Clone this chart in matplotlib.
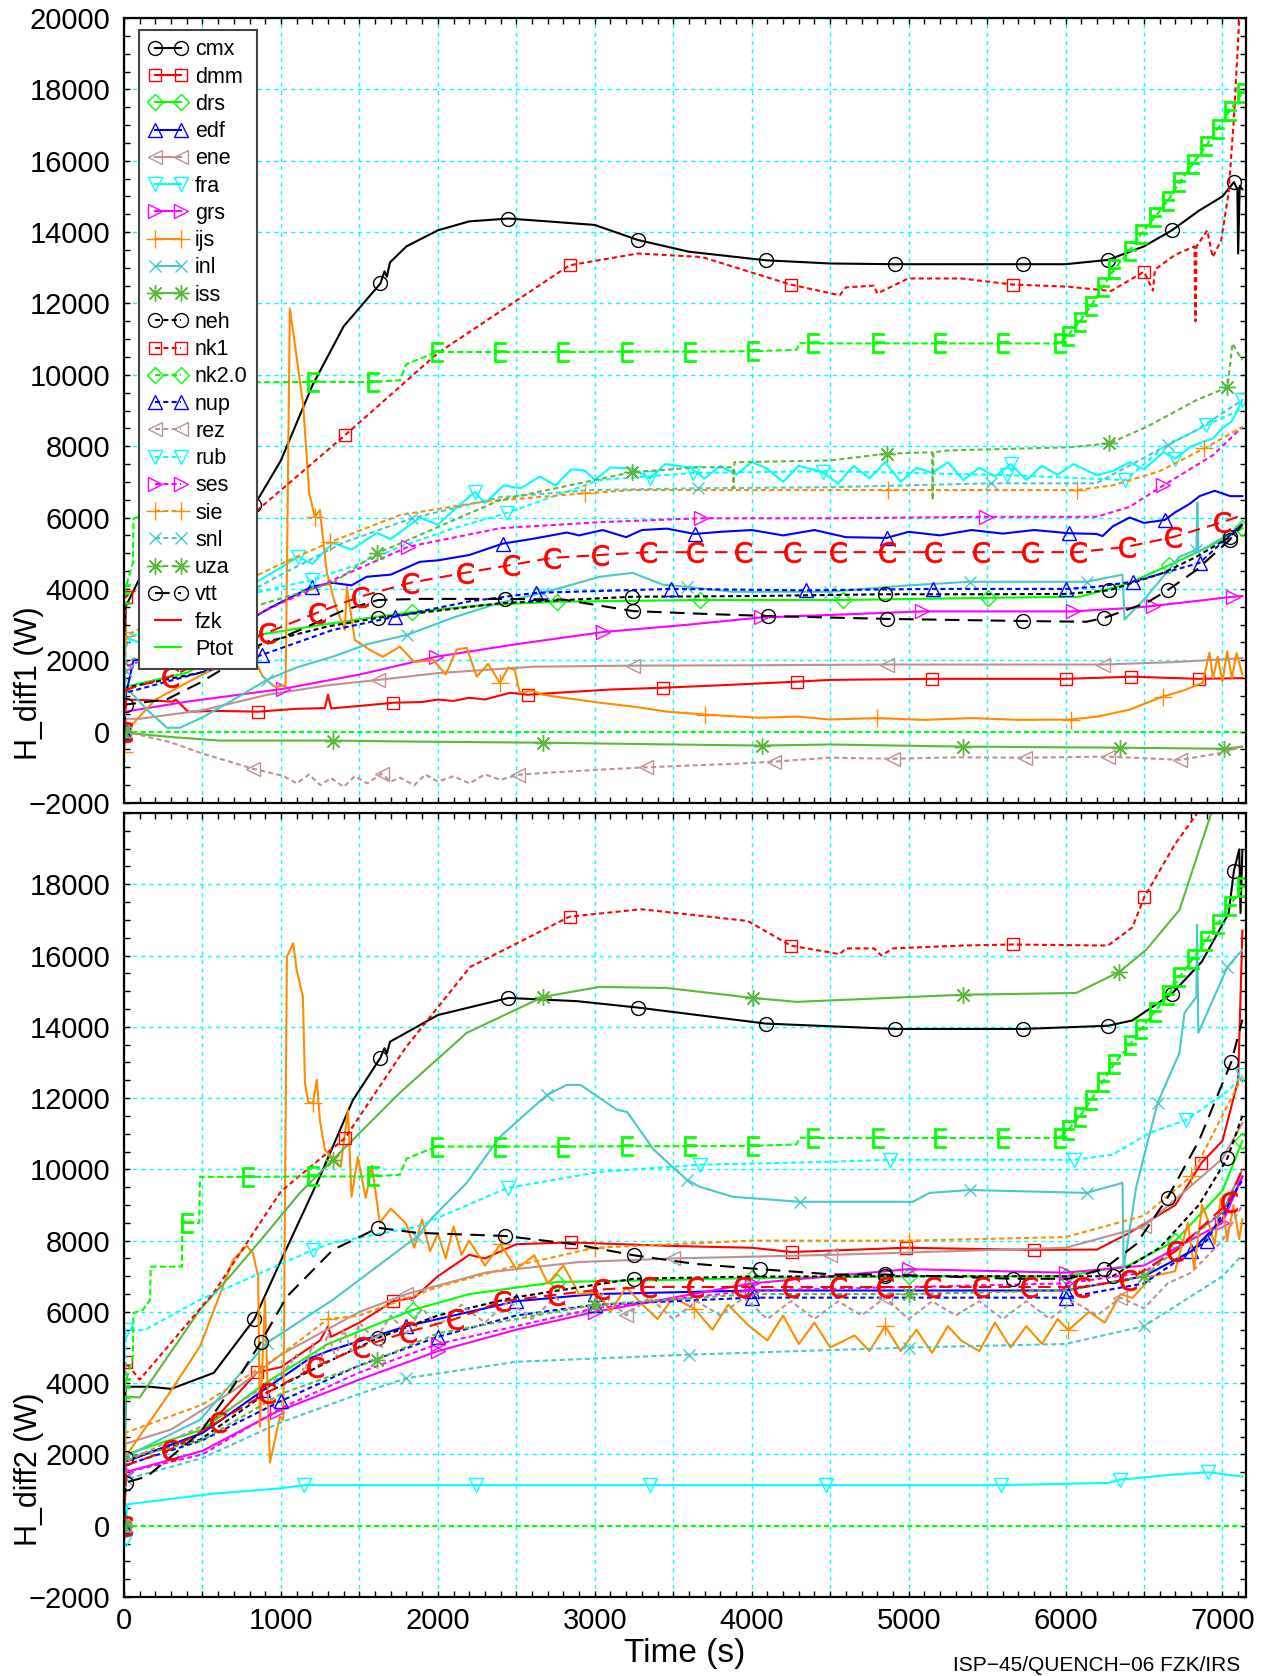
import numpy as np
import matplotlib
matplotlib.use("Agg")
import matplotlib.pyplot as plt
from matplotlib.lines import Line2D
from matplotlib.ticker import MultipleLocator, FuncFormatter

plt.rcParams['font.family'] = ['Liberation Sans', 'DejaVu Sans']

# ===================== data: (time s, power W) =====================
# ---- H_diff1 (top panel)
cmx_top = [(0, 0), (10, 3500), (100, 4300), (300, 5000), (600, 5800), (830, 6340), (1000, 7600), (1200, 9700),
           (1400, 11360), (1634, 12560), (1660, 12900), (1675, 12750), (1695, 13150), (1800, 13600), (2000, 14050),
           (2200, 14300), (2450, 14380), (2700, 14300), (3000, 14200), (3274, 13780), (3600, 13450), (4091, 13210),
           (4500, 13120), (4915, 13100), (5300, 13100), (5732, 13100), (6000, 13100), (6270, 13220), (6500, 13600),
           (6678, 14050), (6850, 14600), (7000, 15000), (7073, 15400), (7095, 15200), (7100, 13400), (7110, 15300),
           (7127, 15200)]
cmx_top_mk = [0, 830, 1634, 2450, 3274, 4091, 4915, 5732, 6270, 6678, 7073]

dmm_top = [(0, 0), (10, 900), (150, 880), (312, 840), (330, 900), (408, 560), (600, 580), (855, 560), (1100, 640),
           (1280, 660), (1300, 1035), (1320, 650), (1500, 720), (1715, 810), (1900, 830), (2000, 900), (2100, 860),
           (2200, 950), (2300, 900), (2460, 1090), (2575, 1035), (2800, 1100), (3100, 1180), (3433, 1230),
           (3800, 1300), (4286, 1400), (4500, 1450), (5150, 1480), (5600, 1480), (6000, 1480), (6420, 1540),
           (6850, 1480), (7127, 1500)]
dmm_top_mk = [0, 855, 1715, 2575, 3433, 4286, 5150, 6000, 6420, 6850]

drs_top = [(0, 0), (10, 1260), (400, 1650), (855, 2710), (1180, 2940), (1500, 3150), (1834, 3350), (2300, 3550),
           (2758, 3640), (3670, 3690), (4580, 3690), (5503, 3750), (6090, 3780), (6400, 4150), (6662, 4670),
           (6900, 5150), (7127, 5700)]
drs_top_mk = [0, 1834, 2758, 3670, 4580, 5503, 6662, 7127]

edf_top = [(0, 0), (10, 1000), (60, 2000), (300, 2150), (600, 2600), (930, 3470), (1197, 4060), (1330, 4170),
           (1450, 4100), (1546, 4340), (1700, 4400), (1885, 4760), (2000, 4800), (2200, 4950), (2414, 5270),
           (2600, 5400), (2822, 5580), (2900, 5500), (3050, 5650), (3200, 5450), (3300, 5650), (3459, 5690),
           (3637, 5540), (3800, 5600), (4000, 5650), (4200, 5500), (4400, 5650), (4600, 5450), (4860, 5430),
           (5000, 5600), (5200, 5500), (5400, 5650), (5600, 5550), (5800, 5650), (6023, 5560), (6197, 5540),
           (6236, 5480), (6300, 5750), (6408, 6000), (6500, 5850), (6631, 5930), (6700, 6150), (6790, 6380),
           (6854, 6600), (6950, 6750), (7050, 6600), (7127, 6600)]
edf_top_mk = [0, 1197, 2414, 3637, 4860, 6023, 6631]

ene_top = [(0, 0), (10, 360), (100, 360), (500, 600), (910, 1030), (1300, 1300), (1620, 1450), (2000, 1640),
           (2605, 1820), (3242, 1850), (4000, 1860), (4860, 1880), (5600, 1880), (6236, 1880), (6700, 1950),
           (7127, 2060)]
ene_top_mk = [0, 1620, 3242, 4860, 6236]

fra_top = [(0, 0), (10, 2630), (100, 2500), (300, 3000), (600, 3700), (866, 4250), (1000, 4600), (1110, 4900),
           (1200, 4700), (1330, 5290), (1450, 5100), (1610, 5570), (1700, 5400), (1885, 6000), (2000, 5800),
           (2100, 6200), (2236, 6720), (2300, 6400), (2420, 6900), (2530, 6820), (2650, 7150), (2750, 6900),
           (2850, 7350), (2936, 7320), (3000, 7050), (3100, 7400), (3242, 7380), (3350, 7100), (3450, 7500),
           (3605, 7400), (3700, 7100), (3800, 7450), (3900, 7200), (4000, 7550), (4096, 7380), (4200, 7000),
           (4300, 7450), (4453, 7270), (4550, 6950), (4650, 7450), (4750, 7100), (4850, 7550), (4950, 7000),
           (5050, 7400), (5150, 7250), (5250, 7550), (5350, 7050), (5450, 7400), (5550, 7150), (5650, 7500),
           (5750, 7050), (5850, 7450), (5950, 7200), (6050, 7500), (6197, 7190), (6300, 7300), (6408, 7550),
           (6500, 7350), (6624, 7830), (6700, 7650), (6800, 8000), (6940, 8220), (7000, 8500), (7060, 8700),
           (7127, 9300)]
fra_top_mk = [0, 1110, 2236, 3350, 4453, 5650, 6700, 7127]

grs_top = [(0, 0), (10, 560), (400, 840), (1015, 1200), (1500, 1600), (1990, 2100), (2500, 2450), (3051, 2790),
           (3600, 3000), (4058, 3200), (4500, 3270), (5086, 3370), (6045, 3370), (6427, 3470), (6555, 3520),
           (7064, 3780), (7127, 3800)]
grs_top_mk = [0, 1015, 1990, 3051, 4058, 5086, 6045, 6555, 7064]

ijs_top = [(0, -560), (10, 0), (200, 900), (500, 1600), (695, 2010), (800, 2300), (885, 1540), (960, 1260),
           (1030, 1300), (1057, 11860), (1100, 10500), (1142, 9150), (1180, 6690), (1216, 6020), (1248, 6210),
           (1293, 4450), (1350, 3500), (1408, 2850), (1420, 4060), (1471, 2570), (1567, 2290), (1650, 2100),
           (1758, 2380), (1850, 1950), (1971, 2010), (2050, 1600), (2120, 2300), (2184, 2350), (2248, 1540),
           (2320, 1900), (2395, 1370), (2450, 1800), (2490, 1730), (2522, 1090), (2600, 1150), (2668, 1035),
           (2800, 950), (3032, 810), (3250, 700), (3459, 560), (3700, 480), (4038, 390), (4300, 420), (4497, 340),
           (4800, 380), (5100, 330), (5400, 380), (5700, 330), (6032, 340), (6200, 420), (6408, 615), (6618, 980),
           (6750, 1150), (6873, 1370), (6917, 2210), (6940, 1500), (6970, 2100), (7000, 1400), (7030, 2250),
           (7060, 1500), (7090, 2200), (7127, 1600)]
ijs_top_mk = [0, 1216, 2395, 3700, 4800, 6032, 6618]

inl_top = [(0, 0), (10, 1260), (150, 600), (274, 110), (357, 110), (500, 400), (700, 900), (910, 1450),
           (1100, 1800), (1330, 2100), (1550, 2450), (1802, 2710), (2100, 3200), (2395, 3610), (2668, 3890),
           (3032, 4340), (3242, 4450), (3433, 4120), (3586, 4060), (3879, 3920), (4497, 3920), (5000, 4100),
           (5389, 4200), (6134, 4200), (6363, 4400), (6376, 3140), (6516, 3780), (6726, 4900), (6834, 5100),
           (6840, 6420), (6846, 5040), (7045, 5540), (7127, 5820)]
inl_top_mk = [0, 910, 1802, 2668, 3586, 4497, 5389, 6134, 6834]

iss_top = [(0, 0), (10, -30), (300, -150), (611, -250), (1000, -250), (1330, -250), (1885, -280), (2668, -310),
           (3500, -360), (4064, -390), (4497, -360), (5345, -420), (6345, -450), (7013, -480), (7127, -420)]
iss_top_mk = [0, 1330, 2668, 4064, 5345, 6345, 7013]

neh_top = [(0, 0), (10, 1230), (484, 1650), (910, 2520), (1300, 2950), (1620, 3190), (1885, 3330), (2400, 3600),
           (3236, 3780), (4000, 3800), (4847, 3850), (5500, 3850), (6000, 3860), (6280, 3960), (6624, 4450),
           (6834, 4900), (7045, 5450), (7127, 5820)]
neh_top_mk = [0, 1620, 3236, 4847, 6280, 7045]

nk1_top = [(0, 0), (10, 3780), (300, 4600), (830, 6130), (1409, 8310), (2000, 10610), (2839, 13070), (3274, 13400),
           (3683, 13300), (4248, 12530), (4561, 12230), (4600, 12450), (4779, 12500), (4800, 12280), (4997, 12700),
           (5337, 12700), (5664, 12530), (6018, 12470), (6290, 12350), (6501, 12890), (6557, 12360), (6570, 12950),
           (6698, 13360), (6821, 13600), (6828, 11500), (6835, 13600), (6903, 14050), (6937, 13300), (6991, 13750),
           (7039, 15100), (7073, 17190), (7107, 19970), (7127, 21000)]
nk1_top_mk = [10, 1409, 2839, 4248, 5664, 6501]

nk20_top = [(0, 0), (7127, 0)]
nk20_top_mk = [0]

nup_top = [(0, 0), (10, 1090), (484, 1650), (878, 2150), (1331, 2850), (1726, 3220), (2200, 3650), (2624, 3890),
           (3484, 4000), (4343, 3960), (5153, 4000), (6000, 4000), (6197, 4060), (6427, 4200), (6854, 4730),
           (7127, 5820)]
nup_top_mk = [0, 878, 1726, 2624, 3484, 4343, 5153, 6000, 6427, 6854]

rez_top = [(0, 0), (10, 0), (300, -300), (484, -590), (822, -1040), (1015, -1240), (1100, -1450), (1180, -1200),
           (1250, -1500), (1320, -1300), (1400, -1550), (1470, -1250), (1550, -1450), (1641, -1180), (1700, -1400),
           (1758, -1290), (1850, -1500), (1920, -1200), (2000, -1400), (2100, -1250), (2200, -1450), (2300, -1200),
           (2400, -1350), (2510, -1210), (2700, -1150), (2900, -1100), (3100, -1050), (3327, -1000), (3600, -950),
           (3900, -900), (4143, -840), (4497, -730), (4898, -760), (5300, -720), (5739, -730), (6268, -700),
           (6732, -790), (7000, -590), (7127, -420)]
rez_top_mk = [0, 822, 1641, 2510, 3327, 4143, 4898, 5739, 6268, 6732]

rub_top = [(0, 0), (10, 2600), (400, 3300), (847, 3900), (1197, 4250), (1500, 4700), (1758, 5180), (2100, 5700),
           (2440, 6130), (3032, 7050), (3624, 7250), (4500, 7300), (5630, 7190), (6382, 7050), (6624, 7970),
           (6898, 8590), (7127, 9040)]
rub_top_mk = [10, 1197, 2440, 3624, 5630, 6382, 6898]

ses_top = [(0, 0), (10, 1820), (300, 2300), (695, 2940), (1000, 3600), (1331, 4250), (1810, 5180), (2395, 5700),
           (3032, 5870), (3675, 5980), (4497, 5980), (5490, 6020), (6197, 6020), (6408, 6300), (6624, 6900),
           (6940, 7750), (7127, 8540)]
ses_top_mk = [10, 1810, 3675, 5490, 6624]

sie_top = [(0, 0), (10, 2690), (300, 3300), (695, 4060), (1000, 4700), (1312, 5310), (1758, 6070), (2300, 6450),
           (2936, 6680), (3242, 6770), (4497, 6770), (4867, 6770), (6070, 6770), (6299, 6900), (6600, 7300),
           (6885, 7940), (7127, 8540)]
sie_top_mk = [10, 1312, 2936, 4867, 6070, 6885]

snl_top = [(0, 0), (10, 1700), (500, 3200), (1000, 4400), (1400, 5300), (1834, 5980), (2395, 6570), (2975, 6770),
           (3656, 6820), (4497, 6850), (5522, 6960), (6197, 6960), (6650, 8030), (6834, 8450), (7127, 9290)]
snl_top_mk = [10, 1834, 3656, 5522, 6650]

uza_top = [(0, 0), (10, 1930), (695, 3330), (1331, 4170), (1610, 5000), (1758, 5270), (2395, 6490), (3236, 7270),
           (3670, 7410), (3879, 7410), (3885, 6820), (3890, 7550), (4497, 7600), (4860, 7790), (5150, 7830),
           (5153, 6490), (5158, 7830), (5248, 7880), (6032, 7970), (6280, 8080), (6516, 8540), (6834, 9290),
           (7032, 9650), (7064, 10880), (7100, 10600), (7127, 10410)]
uza_top_mk = [0, 1610, 3236, 4860, 6280, 7032]

vtt_top = [(0, 0), (10, 760), (270, 900), (484, 1370), (695, 1930), (866, 2380), (1121, 2850), (1400, 3400),
           (1620, 3690), (1885, 3720), (2427, 3720), (2800, 3700), (3242, 3380), (3700, 3300), (4102, 3240),
           (4860, 3160), (5726, 3100), (6134, 3080), (6248, 3190), (6516, 3610), (6650, 3960), (6834, 4530),
           (7045, 5370), (7127, 5800)]
vtt_top_mk = [10, 1620, 2427, 3242, 4102, 4860, 5726, 6248, 6650, 7045]

fzk_top = [(0, 0), (15, 1180), (293, 1540), (600, 2150), (910, 2770), (1229, 3330), (1503, 3780), (1822, 4170),
           (2172, 4450), (2465, 4670), (2726, 4870), (3032, 4950), (3338, 5030), (3637, 5030), (3943, 5030),
           (4255, 5030), (4548, 5030), (4860, 5030), (5153, 5030), (5460, 5030), (5771, 5030), (6077, 5030),
           (6389, 5180), (6682, 5450), (7000, 5870), (7127, 6070)]
fzk_top_mk = [0, 293, 600, 910, 1229, 1503, 1822, 2172, 2465, 2726, 3032, 3338, 3637, 3943, 4255, 4548, 4860,
              5153, 5460, 5771, 6077, 6389, 6682, 7000]

# ---- H_diff2 (bottom panel)
cmx_bot = [(0, 0), (10, 3900), (163, 3900), (300, 3840), (572, 4290), (830, 5790), (1000, 7440), (1252, 9830),
           (1457, 11930), (1634, 13130), (1660, 13400), (1675, 13250), (1695, 13580), (2000, 14330), (2450, 14810),
           (2886, 14720), (3274, 14540), (4091, 14090), (4915, 13940), (5732, 13940), (6270, 14030), (6426, 14180),
           (6678, 14930), (6869, 15830), (7039, 17180), (7073, 18380), (7107, 18980), (7115, 17190), (7127, 18960)]
cmx_bot_mk = [0, 830, 1634, 2450, 3274, 4091, 4915, 5732, 6270, 6678, 7073]

dmm_bot = [(0, 0), (10, 1800), (500, 2600), (847, 4300), (1000, 4450), (1150, 4900), (1250, 5200), (1300, 5600),
           (1320, 5300), (1500, 5700), (1716, 6300), (1850, 6400), (2000, 7000), (2200, 7600), (2300, 7500),
           (2500, 7900), (2846, 7950), (3500, 7850), (4000, 7800), (4255, 7680), (4983, 7800), (5800, 7740),
           (6200, 7750), (6400, 8200), (6700, 9000), (6866, 10180), (7000, 10800), (7100, 12500), (7127, 16700)]
dmm_bot_mk = [0, 847, 1716, 2846, 4255, 4983, 5800, 6866]

drs_bot = [(0, 0), (10, 2000), (500, 2700), (900, 4000), (1300, 5100), (1843, 6060), (2200, 6500), (2757, 6840),
           (3500, 6900), (4000, 6950), (5000, 7000), (6000, 7000), (6400, 7300), (6700, 8000), (7000, 9400),
           (7127, 10800)]
drs_bot_mk = [0, 1843, 2757, 4000, 5000, 6000, 6700, 7127]

edf_bot = [(0, 0), (10, 1800), (500, 2600), (887, 3800), (1185, 4700), (1300, 4900), (1800, 5600), (2500, 6300),
           (3000, 6500), (4000, 6600), (6000, 6600), (6500, 7000), (6800, 7700), (7000, 8600), (7127, 9800)]
edf_bot_mk = [0, 887, 1800, 2500, 3450, 4300, 5200, 6000, 6800]

ene_bot = [(0, 0), (10, 2300), (300, 2700), (700, 3800), (1000, 4800), (1500, 6000), (1800, 6500), (2300, 7100),
           (2900, 7400), (3500, 7500), (4500, 7600), (6000, 7800), (6500, 8400), (7000, 10300), (7127, 11300)]
ene_bot_mk = [0, 1800, 3500, 4847, 6500]

fra_bot = [(0, 0), (10, -360), (20, 600), (572, 900), (1000, 1050), (1150, 1140), (2240, 1140), (3350, 1140),
           (4472, 1140), (5589, 1140), (6270, 1200), (6345, 1290), (6698, 1440), (6910, 1500), (7127, 1380)]
fra_bot_mk = [10, 1150, 2240, 3350, 4472, 5589, 6345, 6910]

grs_bot = [(0, 0), (10, 1500), (500, 2100), (975, 3200), (1500, 4100), (2000, 4900), (2500, 5500), (3000, 6000),
           (4000, 6800), (5000, 7200), (6000, 7100), (6500, 7300), (7000, 8500), (7127, 9800)]
grs_bot_mk = [0, 975, 2000, 3000, 4000, 5000, 6000, 7000]

ijs_bot = [(0, 0), (10, 1940), (274, 3620), (484, 5030), (695, 7460), (783, 7850), (822, 7650), (855, 6990),
           (866, 2780), (898, 6340), (930, 1770), (994, 3060), (1015, 2970), (1038, 15960), (1078, 16350),
           (1100, 15600), (1140, 14840), (1153, 12430), (1174, 11890), (1204, 11860), (1229, 12510), (1248, 11390),
           (1280, 10550), (1331, 10320), (1380, 10070), (1427, 11670), (1450, 9230), (1490, 10350), (1540, 9200),
           (1580, 10100), (1630, 8500), (1700, 8900), (1797, 8480), (1850, 7800), (1900, 8600), (1950, 7700),
           (2000, 8200), (2050, 7500), (2100, 8400), (2150, 7600), (2200, 8000), (2300, 7300), (2400, 7900),
           (2500, 7200), (2614, 7590), (2700, 6800), (2800, 7300), (2900, 6500), (3022, 6540), (3100, 6000),
           (3200, 6700), (3295, 6240), (3400, 5800), (3500, 6400), (3635, 6090), (3750, 5500), (3850, 6200),
           (3975, 5640), (4100, 5200), (4200, 5900), (4300, 5100), (4400, 5700), (4500, 5000), (4656, 5340),
           (4750, 4900), (4850, 5600), (4950, 4900), (5050, 5500), (5150, 4850), (5250, 5600), (5337, 5190),
           (5450, 4900), (5550, 5700), (5650, 5000), (5750, 5600), (5850, 5100), (5950, 5800), (6018, 5490),
           (6150, 6000), (6250, 5700), (6350, 6500), (6426, 6390), (6550, 7000), (6698, 7140), (6780, 8500),
           (6820, 7200), (6870, 9000), (6903, 8630), (6950, 7900), (6990, 9200), (7030, 8000), (7070, 9000),
           (7107, 8040), (7127, 8600)]
ijs_bot_mk = [0, 1204, 2400, 3635, 4850, 6018]

inl_bot = [(0, 0), (10, 1940), (484, 2970), (910, 5130), (1331, 6340), (1866, 8110), (1970, 8670), (2184, 9620),
           (2395, 10910), (2696, 12090), (2822, 12370), (2909, 12370), (3142, 11670), (3206, 11610), (3376, 10550),
           (3586, 9710), (3670, 9510), (3879, 9230), (4306, 9090), (5026, 9090), (5134, 9340), (5389, 9420),
           (6134, 9340), (6363, 9620), (6370, 7200), (6450, 9500), (6587, 11870), (6726, 13270), (6758, 14390),
           (6834, 14840), (6838, 16860), (6846, 13830), (7032, 15680), (7127, 16160)]
inl_bot_mk = [0, 910, 1866, 2696, 3586, 4306, 5389, 6134, 6587, 7032]

iss_bot = [(0, 0), (10, 3620), (100, 3600), (484, 6060), (695, 7100), (910, 8220), (1121, 9340), (1331, 10270),
           (1758, 12150), (2184, 13830), (2670, 14840), (3032, 15120), (3459, 15090), (4008, 14810), (4286, 14700),
           (5345, 14900), (6068, 14950), (6342, 15540), (6514, 16160), (6726, 17280), (6929, 20000), (7050, 21500)]
iss_bot_mk = [0, 1331, 2670, 4008, 5345, 6342]

neh_bot = [(0, 0), (10, 1900), (484, 2410), (910, 3730), (1300, 4600), (1620, 5270), (2000, 5900), (2480, 6400),
           (3247, 6930), (3975, 6990), (4847, 7000), (5664, 7000), (6300, 7000), (6600, 7800), (6850, 9000),
           (7032, 10320), (7127, 11500)]
neh_bot_mk = [10, 1620, 3247, 4847, 6300, 7032]

nk1_bot = [(0, 0), (10, 4590), (100, 4100), (572, 6540), (1000, 9380), (1409, 10880), (1797, 13430), (2206, 15680),
           (2839, 17090), (3295, 17300), (3975, 16970), (4248, 16280), (4561, 16040), (4600, 16200), (4779, 16200),
           (4826, 16000), (4900, 16200), (5337, 16280), (5664, 16310), (6270, 16280), (6426, 16790), (6501, 17630),
           (6698, 19130), (6835, 19970), (6900, 21000)]
nk1_bot_mk = [10, 1409, 2839, 4248, 5664, 6501]

nk20_bot = [(0, 0), (7127, 0)]
nk20_bot_mk = [0]

nup_bot = [(0, 0), (10, 1700), (500, 2400), (1000, 3500), (1500, 4500), (2000, 5300), (2500, 5900), (3000, 6200),
           (4000, 6400), (6000, 6400), (6500, 6800), (6900, 8000), (7127, 9700)]
nup_bot_mk = [0, 1000, 2000, 3000, 4000, 6000, 6900]

rez_bot = [(0, 0), (10, 1800), (500, 2800), (1000, 4200), (1100, 4800), (1150, 4300), (1200, 5100), (1250, 4600),
           (1300, 5400), (1350, 4700), (1400, 5500), (1450, 4900), (1500, 5700), (1600, 5200), (1700, 5900),
           (1800, 5400), (1900, 6100), (2000, 5600), (2150, 6200), (2300, 5700), (2450, 6300), (2600, 5800),
           (2750, 6400), (2900, 5900), (3050, 6500), (3200, 5900), (3350, 6400), (3500, 5800), (3650, 6300),
           (3800, 5900), (3950, 6400), (4100, 5800), (4250, 6300), (4400, 5800), (4550, 6300), (4700, 5900),
           (4850, 6400), (5000, 5800), (5150, 6300), (5300, 5900), (5450, 6300), (5600, 5800), (5750, 6300),
           (5900, 5800), (6050, 6300), (6200, 5900), (6350, 6400), (6500, 6100), (6650, 6800), (6800, 7100),
           (7000, 8000), (7127, 9000)]
rez_bot_mk = [0, 1600, 3200, 4850, 6350]

rub_bot = [(0, 0), (10, 5490), (130, 5490), (484, 6340), (1204, 7740), (1331, 7940), (1866, 8390), (2445, 9480),
           (3032, 9930), (3670, 10130), (4497, 10210), (4879, 10270), (6057, 10270), (6299, 10410), (6535, 11020),
           (6770, 11390), (7045, 12230), (7127, 12650)]
rub_bot_mk = [10, 1204, 2445, 3670, 4879, 6057, 6770, 7127]

ses_bot = [(0, 0), (10, 1500), (500, 2000), (1000, 3300), (1500, 4300), (2000, 5100), (3000, 6100), (4000, 6600),
           (6000, 6800), (6500, 7100), (7000, 8800), (7127, 10000)]
ses_bot_mk = [10, 2000, 4000, 6000]

sie_bot = [(0, 0), (10, 2610), (500, 3400), (1000, 4800), (1300, 5800), (1500, 5900), (2000, 6700), (2500, 7300),
           (3000, 7800), (4000, 8000), (5000, 8000), (6000, 8100), (6500, 8700), (6800, 9800), (7127, 12600)]
sie_bot_mk = [0, 1300, 3000, 5000, 6800]

snl_bot = [(0, 0), (10, 1300), (500, 1900), (1000, 2900), (1500, 3700), (1800, 4140), (2500, 4600), (3600, 4800),
           (5000, 5000), (6000, 5100), (6500, 5600), (7000, 7000), (7127, 7600)]
snl_bot_mk = [10, 1800, 3600, 5000, 6500]

uza_bot = [(0, 0), (10, 1900), (500, 2400), (1000, 3700), (1610, 4660), (2000, 5400), (3000, 6200), (4000, 6500),
           (5000, 6500), (6000, 6600), (6500, 7000), (7000, 8800), (7127, 10000)]
uza_bot_mk = [0, 1610, 3000, 5000, 6500]

vtt_bot = [(0, 0), (10, 1210), (146, 1380), (484, 2610), (695, 3900), (873, 5160), (1038, 6430), (1331, 7740),
           (1620, 8360), (1866, 8220), (2430, 8130), (2886, 7890), (3247, 7590), (3635, 7350), (4050, 7200),
           (4520, 7050), (4847, 7050), (5664, 6930), (6018, 6930), (6242, 7200), (6450, 7900), (6650, 9200),
           (6850, 10800), (6980, 12200), (7057, 13020), (7127, 14200)]
vtt_bot_mk = [10, 873, 1620, 2430, 3247, 4050, 4847, 5664, 6242, 6650, 7057]

fzk_bot = [(0, 0), (15, 1700), (293, 2130), (599, 2920), (910, 3730), (1217, 4460), (1510, 5020), (1810, 5440),
           (2110, 5800), (2410, 6300), (2750, 6480), (3040, 6630), (3340, 6700), (3640, 6700), (3940, 6700),
           (4250, 6700), (4550, 6700), (4850, 6700), (5150, 6700), (5460, 6700), (5770, 6700), (6100, 6700),
           (6400, 6900), (6700, 7700), (7040, 9080), (7127, 10000)]
fzk_bot_mk = [0, 293, 599, 910, 1217, 1510, 1810, 2110, 2410, 2750, 3040, 3340, 3640, 3940, 4250, 4550, 4850,
              5150, 5460, 5770, 6100, 6400, 6700, 7040]

# total electric power, same curve in both panels
ptot = [(0, 3870), (57, 4740), (60, 5970), (121, 6060), (166, 6340), (170, 7270), (369, 7270), (372, 8580),
        (401, 8500), (480, 8500), (484, 9790), (790, 9790), (1204, 9800), (1586, 9800), (1758, 9850),
        (1800, 10300), (1993, 10640), (2395, 10640), (2797, 10640), (3204, 10650), (3605, 10650), (4008, 10660),
        (4286, 10700), (4306, 10890), (4389, 10880), (4803, 10880), (5197, 10880), (5600, 10880), (5962, 10880),
        (6015, 11100), (6089, 11480), (6163, 11940), (6237, 12460), (6312, 12970), (6408, 13480), (6482, 13950),
        (6567, 14410), (6652, 14880), (6726, 15390), (6811, 15910), (6896, 16420), (6970, 16890), (7045, 17400),
        (7130, 17910)]
ptot_mk = [0, 401, 790, 1204, 1586, 1993, 2395, 2797, 3204, 3605, 4008, 4389, 4803, 5197, 5600, 5962, 6015,
           6089, 6163, 6237, 6312, 6408, 6482, 6567, 6652, 6726, 6811, 6896, 6970, 7045, 7130]

labels = ["cmx", "dmm", "drs", "edf", "ene", "fra", "grs", "ijs", "inl", "iss", "neh", "nk1", "nk2.0", "nup",
          "rez", "rub", "ses", "sie", "snl", "uza", "vtt", "fzk", "Ptot"]

# ===================== styles =====================
DOT = (0, (2.4, 1.6))
VTT_DASH = (0, (7, 4))
FZK_DASH = (0, (6, 3.5))
PTOT_DASH = (0, (3, 1.5))
AST = (8, 2, 0)

style = {
    "cmx": ("#000000", "-", "o", 10), "dmm": ("#ff0000", "-", "s", 9), "drs": ("#00ff00", "-", "D", 8),
    "edf": ("#0000ff", "-", "^", 10), "ene": ("#c09090", "-", "<", 10), "fra": ("#00ffff", "-", "v", 10),
    "grs": ("#ff00ff", "-", ">", 10), "ijs": ("#ff8c00", "-", "+", 13), "inl": ("#48c8c8", "-", "x", 9),
    "iss": ("#5cb83c", "-", AST, 12), "neh": ("#000000", DOT, "o", 10), "nk1": ("#ff0000", DOT, "s", 9),
    "nk2.0": ("#00ff00", DOT, "D", 8), "nup": ("#0000ff", DOT, "^", 10), "rez": ("#c09090", DOT, "<", 10),
    "rub": ("#00ffff", DOT, "v", 10), "ses": ("#ff00ff", DOT, ">", 10), "sie": ("#ff8c00", DOT, "+", 13),
    "snl": ("#48c8c8", DOT, "x", 9), "uza": ("#5cb83c", DOT, AST, 12), "vtt": ("#000000", VTT_DASH, "o", 10),
    "fzk": ("#ff0000", "-", None, 10), "Ptot": ("#00ff00", "-", None, 10),
}

top_series = {
    "cmx": (cmx_top, cmx_top_mk), "dmm": (dmm_top, dmm_top_mk), "drs": (drs_top, drs_top_mk),
    "edf": (edf_top, edf_top_mk), "ene": (ene_top, ene_top_mk), "fra": (fra_top, fra_top_mk),
    "grs": (grs_top, grs_top_mk), "ijs": (ijs_top, ijs_top_mk), "inl": (inl_top, inl_top_mk),
    "iss": (iss_top, iss_top_mk), "neh": (neh_top, neh_top_mk), "nk1": (nk1_top, nk1_top_mk),
    "nk2.0": (nk20_top, nk20_top_mk), "nup": (nup_top, nup_top_mk), "rez": (rez_top, rez_top_mk),
    "rub": (rub_top, rub_top_mk), "ses": (ses_top, ses_top_mk), "sie": (sie_top, sie_top_mk),
    "snl": (snl_top, snl_top_mk), "uza": (uza_top, uza_top_mk), "vtt": (vtt_top, vtt_top_mk),
}
bot_series = {
    "cmx": (cmx_bot, cmx_bot_mk), "dmm": (dmm_bot, dmm_bot_mk), "drs": (drs_bot, drs_bot_mk),
    "edf": (edf_bot, edf_bot_mk), "ene": (ene_bot, ene_bot_mk), "fra": (fra_bot, fra_bot_mk),
    "grs": (grs_bot, grs_bot_mk), "ijs": (ijs_bot, ijs_bot_mk), "inl": (inl_bot, inl_bot_mk),
    "iss": (iss_bot, iss_bot_mk), "neh": (neh_bot, neh_bot_mk), "nk1": (nk1_bot, nk1_bot_mk),
    "nk2.0": (nk20_bot, nk20_bot_mk), "nup": (nup_bot, nup_bot_mk), "rez": (rez_bot, rez_bot_mk),
    "rub": (rub_bot, rub_bot_mk), "ses": (ses_bot, ses_bot_mk), "sie": (sie_bot, sie_bot_mk),
    "snl": (snl_bot, snl_bot_mk), "uza": (uza_bot, uza_bot_mk), "vtt": (vtt_bot, vtt_bot_mk),
}


def mark_idx(t, mk):
    t = np.asarray(t, dtype=float)
    return sorted({int(np.argmin(np.abs(t - m))) for m in mk})


def draw(ax, pts, mk, color, ls, marker, ms, text_marker=False):
    t = [p[0] for p in pts]
    y = [p[1] for p in pts]
    ax.plot(t, y, color=color, ls=ls, lw=1.5, marker=marker, ms=ms,
            mfc=color if text_marker else "none", mec=color, mew=0.5 if text_marker else 1.0,
            markevery=mark_idx(t, mk), clip_on=True)


def style_axis(ax, ylabel, show_xlabels):
    ax.set_xlim(0, 7150)
    ax.set_ylim(-2000, 20000)
    ax.xaxis.set_major_locator(MultipleLocator(500))
    ax.xaxis.set_minor_locator(MultipleLocator(100))
    ax.yaxis.set_major_locator(MultipleLocator(2000))
    ax.yaxis.set_minor_locator(MultipleLocator(500))
    ax.xaxis.set_major_formatter(FuncFormatter(lambda v, p: f"{int(v)}" if int(round(v)) % 1000 == 0 else ""))
    ax.yaxis.set_major_formatter(FuncFormatter(lambda v, p: f"{int(v)}".replace("-", "\u2212")))
    ax.tick_params(which="both", direction="in", top=True, right=True, length=4.5, width=1.0,
                   labelsize=21, labelbottom=show_xlabels)
    ax.tick_params(axis="y", pad=10)
    ax.tick_params(axis="x", pad=7)
    ax.grid(True, which="major", color="#00ffff", ls=(0, (3, 3)), lw=1.0)
    for s in ax.spines.values():
        s.set_linewidth(1.6)
    ax.set_ylabel(ylabel, fontsize=22)
    ax.yaxis.set_label_coords(-0.071, 0.152)


fig = plt.figure(figsize=(12.62, 16.76), dpi=100)
ax1 = fig.add_axes([0.09826, 0.52088, 0.88906, 0.46838])
ax2 = fig.add_axes([0.09826, 0.04714, 0.88906, 0.46778])

for ax, series in ((ax1, top_series), (ax2, bot_series)):
    for name in labels[:-2]:
        color, ls, marker, ms = style[name]
        pts, mk = series[name]
        draw(ax, pts, mk, color, ls, marker, ms)

draw(ax1, fzk_top, fzk_top_mk, "#ff0000", FZK_DASH, r"$\mathsf{C}$", 15, text_marker=True)
draw(ax2, fzk_bot, fzk_bot_mk, "#ff0000", FZK_DASH, r"$\mathsf{C}$", 15, text_marker=True)
for ax in (ax1, ax2):
    draw(ax, ptot, ptot_mk, "#00ff00", PTOT_DASH, r"$\mathsf{E}$", 14, text_marker=True)

style_axis(ax1, "H_diff1 (W)", False)
style_axis(ax2, "H_diff2 (W)", True)
ax2.yaxis.set_label_coords(-0.071, 0.163)
ax2.set_yticks(range(-2000, 18001, 2000))
ax2.set_ylim(-2000, 20000)
ax2.set_xlabel("Time (s)", fontsize=24, va="center")
ax2.xaxis.set_label_coords(0.5, -0.072)

handles = []
for name in labels:
    color, ls, marker, ms = style[name]
    handles.append(Line2D([], [], color=color, ls=ls, lw=1.5, marker=marker, ms=ms,
                          mfc="none", mec=color, mew=1.0))
leg = ax1.legend(handles, labels, loc="upper left", bbox_to_anchor=(0.0134, 0.985), borderaxespad=0,
                 fontsize=15.5, numpoints=2, handlelength=1.8, handletextpad=0.35, labelspacing=0.29,
                 borderpad=0.45, fancybox=False, framealpha=1.0, edgecolor="#444444")
leg.get_frame().set_linewidth(1.5)

fig.text(1240 / 1262, 1 - 1665 / 1676, "ISP\u221245/QUENCH\u221206 FZK/IRS", ha="right", va="center", fontsize=15)

fig.savefig("out.png", dpi=100)
